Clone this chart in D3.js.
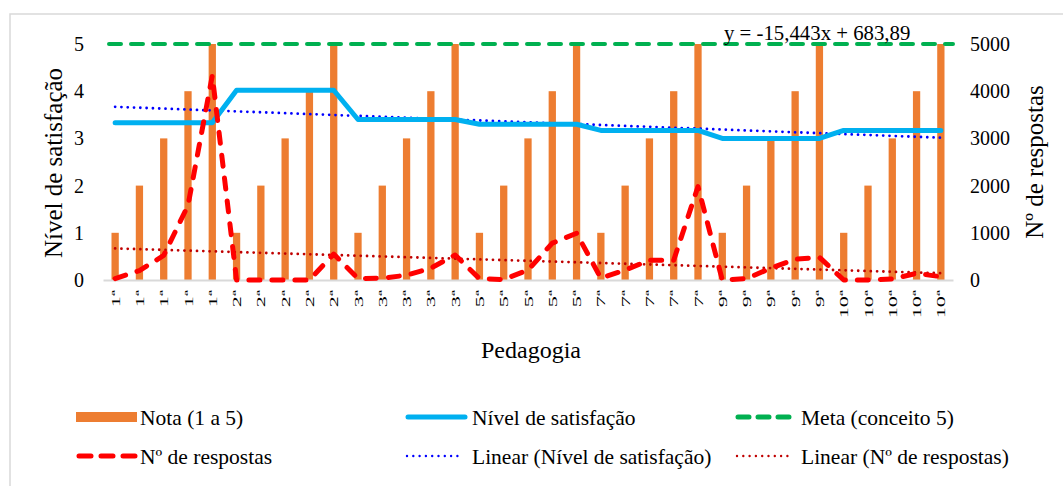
<!DOCTYPE html>
<html><head><meta charset="utf-8">
<script src="https://cdn.jsdelivr.net/npm/d3@7"></script>
</head><body style="margin:0"><svg id="c" width="1063" height="486"></svg>
<script>
// ---------- DATA ----------
const categories = ["1ª","1ª","1ª","1ª","1ª","2ª","2ª","2ª","2ª","2ª","3ª","3ª","3ª","3ª","3ª",
  "5ª","5ª","5ª","5ª","5ª","7ª","7ª","7ª","7ª","7ª","9ª","9ª","9ª","9ª","9ª","10ª","10ª","10ª","10ª","10ª"];
const nota = [1,2,3,4,5, 1,2,3,4,5, 1,2,3,4,5, 1,2,3,4,5, 1,2,3,4,5, 1,2,3,4,5, 1,2,3,4,5];
const satisfacao = [3.33,3.33,3.33,3.33,3.33, 4.02,4.02,4.02,4.02,4.02, 3.4,3.4,3.4,3.4,3.4,
  3.3,3.3,3.3,3.3,3.3, 3.17,3.17,3.17,3.17,3.17, 3.0,3.0,3.0,3.0,3.0, 3.17,3.17,3.17,3.17,3.17];
const respostas = [30,200,520,1580,4330, 0,0,0,0,550, 30,40,100,250,530,
  30,10,210,780,990, 40,210,420,420,1980, 0,30,250,440,480, 0,0,20,140,70];
const metaValue = [5];
const leftTicks = [0,1,2,3,4,5];
const rightTicks = [0,1000,2000,3000,4000,5000];
const trendRespCoef = [-15.443, 683.89];   // slope, intercept (x = 1..35)
const equationLabel = ["y = -15,443x + 683,89"];
const legendLabels = ["Nota (1 a 5)","Nível de satisfação","Meta (conceito 5)",
  "Nº de respostas","Linear (Nível de satisfação)","Linear (Nº de respostas)"];
const axisTitles = ["Nível de satisfação","Nº de respostas","Pedagogia"];

// ---------- CHART ----------
const FONT = "Times New Roman";
const svg = d3.select("#c");
const C = {bar:"#ED7D31", sat:"#00B0F0", meta:"#00B050", resp:"#FF0000", tSat:"#0000FF", tResp:"#C00000", grid:"#D9D9D9"};

svg.append("rect").attr("x",10).attr("y",14).attr("width",1080).attr("height",500)
  .attr("fill","none").attr("stroke","#D9D9D9").attr("stroke-width",1.5);

const idx = d3.range(categories.length);
const x = d3.scaleBand().domain(idx).range([103,953]);
const cx = i => x(i) + x.bandwidth()/2;
const yL = d3.scaleLinear().domain([0,5]).range([280,44]);
const yR = d3.scaleLinear().domain([0,5000]).range([280,44]);

function setFont(sel, size){
  return sel.attr("font-family",FONT).attr("font-size",size).attr("fill","#000");
}

// bars
svg.append("g").selectAll("rect").data(nota).join("rect")
  .attr("x",(d,i)=>cx(i)-x.bandwidth()*0.15)
  .attr("width",x.bandwidth()*0.3)
  .attr("y",d=>yL(d)).attr("height",d=>yL(0)-yL(d))
  .attr("fill",C.bar);

// x axis
const xAxis = svg.append("g").attr("transform","translate(0,280)")
  .call(d3.axisBottom(x).tickSize(0).tickFormat(i=>categories[i]));
xAxis.attr("font-family",FONT).attr("font-size",null);
xAxis.select(".domain").attr("stroke",C.grid).attr("stroke-width",2);
setFont(xAxis.selectAll("text"), 13)
  .attr("transform","translate(0,10) rotate(-90) scale(1.7,1)").attr("text-anchor","end")
  .attr("x",0).attr("y",0).attr("dy","0.35em");

// left axis
const lAxis = svg.append("g").attr("transform","translate(103,0)")
  .call(d3.axisLeft(yL).tickValues(leftTicks).tickSize(0).tickPadding(19).tickFormat(d3.format("d")));
lAxis.attr("font-family",FONT).attr("font-size",null);
lAxis.select(".domain").remove();
setFont(lAxis.selectAll("text"), 20);

// right axis
const rAxis = svg.append("g").attr("transform","translate(953,0)")
  .call(d3.axisRight(yR).tickValues(rightTicks).tickSize(0).tickPadding(17).tickFormat(d3.format("d")));
rAxis.attr("font-family",FONT).attr("font-size",null);
rAxis.select(".domain").remove();
setFont(rAxis.selectAll("text"), 20);

// meta line
svg.append("line").datum(metaValue[0])
  .attr("x1",x.range()[0]+6).attr("x2",x.range()[1]).attr("y1",d=>yL(d)).attr("y2",d=>yL(d))
  .attr("stroke",C.meta).attr("stroke-width",4).attr("stroke-dasharray","12 10").attr("stroke-linecap","round");

// trend lines
function linReg(vals){
  const xs=vals.map((v,i)=>i+1);
  const mx=d3.mean(xs), my=d3.mean(vals);
  const b=d3.sum(xs,(xx,i)=>(xx-mx)*(vals[i]-my))/d3.sum(xs,xx=>(xx-mx)*(xx-mx));
  return [b, my-b*mx];
}
const satCoef = linReg(satisfacao);
const line = d3.line();
svg.append("path")
  .attr("d", line(idx.map(i=>[cx(i), yL(satCoef[1]+satCoef[0]*(i+1))])))
  .attr("fill","none").attr("stroke",C.tSat).attr("stroke-width",2.8)
  .attr("stroke-dasharray","0 6.3").attr("stroke-linecap","round");
svg.append("path")
  .attr("d", line(idx.map(i=>[cx(i), yR(trendRespCoef[1]+trendRespCoef[0]*(i+1))])))
  .attr("fill","none").attr("stroke",C.tResp).attr("stroke-width",2.8)
  .attr("stroke-dasharray","0 6.3").attr("stroke-linecap","round");

// satisfaction line
svg.append("path")
  .attr("d", line(satisfacao.map((d,i)=>[cx(i), yL(d)])))
  .attr("fill","none").attr("stroke",C.sat).attr("stroke-width",5)
  .attr("stroke-linecap","round").attr("stroke-linejoin","round");

// respostas line
svg.append("path")
  .attr("d", line(respostas.map((d,i)=>[cx(i), yR(d)])))
  .attr("fill","none").attr("stroke",C.resp).attr("stroke-width",5)
  .attr("stroke-dasharray","11 12").attr("stroke-linecap","round").attr("stroke-linejoin","round");

function txt(parent, s, size){
  return setFont(parent.append("text"), size).text(s);
}

// equation label
txt(svg, equationLabel[0], 20.8).attr("x",724).attr("y",40);

// axis titles
txt(svg, axisTitles[0], 25).attr("transform","translate(62,163) rotate(-90)").attr("text-anchor","middle");
txt(svg, axisTitles[1], 25).attr("transform","translate(1043,162) rotate(-90)").attr("text-anchor","middle");
txt(svg, axisTitles[2], 24).attr("x",531).attr("y",358).attr("text-anchor","middle");

// legend
const legendPos = [[76,417,140],[405,417,472],[735,417,801],[76,456,140],[405,456,472],[735,456,801]];
const lg = svg.append("g");
legendLabels.forEach((lab,k)=>{
  const [sx,sy,tx]=legendPos[k];
  const g = lg.append("g");
  if(k===0){
    g.append("rect").attr("x",sx).attr("y",sy-5).attr("width",61).attr("height",10).attr("fill",C.bar);
  } else if(k===1){
    g.append("line").attr("x1",sx+3).attr("x2",sx+60).attr("y1",sy).attr("y2",sy)
      .attr("stroke",C.sat).attr("stroke-width",5).attr("stroke-linecap","round");
  } else if(k===2){
    g.append("line").attr("x1",sx+3).attr("x2",sx+58).attr("y1",sy).attr("y2",sy)
      .attr("stroke",C.meta).attr("stroke-width",5).attr("stroke-dasharray","11 9").attr("stroke-linecap","round");
  } else if(k===3){
    g.append("line").attr("x1",sx+3).attr("x2",sx+60).attr("y1",sy).attr("y2",sy)
      .attr("stroke",C.resp).attr("stroke-width",5).attr("stroke-dasharray","12 10").attr("stroke-linecap","round");
  } else {
    g.append("line").attr("x1",sx+2).attr("x2",sx+58).attr("y1",sy).attr("y2",sy)
      .attr("stroke",k===4?C.tSat:C.tResp).attr("stroke-width",2.4)
      .attr("stroke-dasharray","0 6.3").attr("stroke-linecap","round");
  }
  txt(g, lab, 21.5).attr("x",tx).attr("y",sy+8);
});
</script>
</body></html>
